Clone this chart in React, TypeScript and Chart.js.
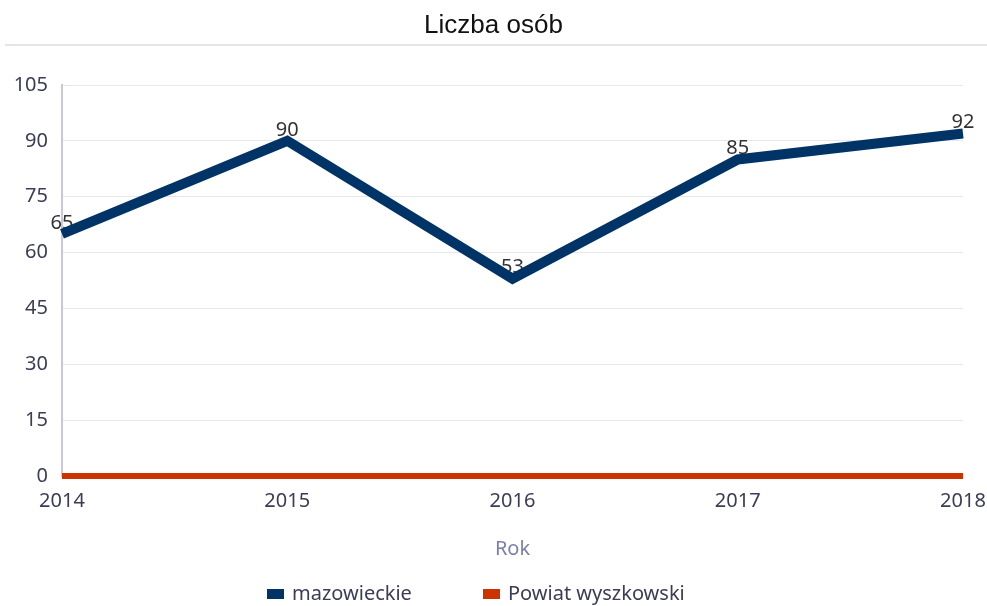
import React, { useEffect, useRef } from "react";
import { Chart, registerables } from "chart.js";

Chart.register(...registerables);

const years = ["2014", "2015", "2016", "2017", "2018"];
const mazowieckie = [65, 90, 53, 85, 92];
const powiatWyszkowski = [0, 0, 0, 0, 0];
const seriesNames = ["mazowieckie", "Powiat wyszkowski"];
const seriesColors = ["#003366", "#cc3300"];
const titleText = "Liczba osób";
const xTitle = "Rok";

const FONT = "'Noto Sans', 'Open Sans', sans-serif";

const decorPlugin = {
  id: "decor",
  beforeDatasetsDraw(chart: any) {
    const ctx = chart.ctx;
    const meta = chart.getDatasetMeta(0);
    ctx.save();
    ctx.font = `20px ${FONT}`;
    ctx.fillStyle = "#333333";
    ctx.textAlign = "center";
    ctx.textBaseline = "bottom";
    meta.data.forEach((pt: any, i: number) => {
      ctx.fillText(String(mazowieckie[i]), pt.x, pt.y - 1);
    });
    ctx.restore();
  },
  afterDraw(chart: any) {
    const ctx = chart.ctx;
    const w = chart.width;
    ctx.save();
    // title
    ctx.font = `26px 'Liberation Sans', Arial, sans-serif`;
    ctx.fillStyle = "#111111";
    ctx.textAlign = "center";
    ctx.textBaseline = "middle";
    ctx.fillText(titleText, w / 2, 26);
    // separator
    ctx.fillStyle = "#e4e4ea";
    ctx.fillRect(5, 44, w - 5, 2);
    // legend
    ctx.font = `20px ${FONT}`;
    ctx.textBaseline = "middle";
    ctx.textAlign = "left";
    const y = 594;
    const xs = [267, 483];
    seriesNames.forEach((n, i) => {
      ctx.fillStyle = seriesColors[i];
      ctx.fillRect(xs[i], y - 5, 17, 10);
      ctx.fillStyle = "#3a3d55";
      ctx.fillText(n, xs[i] + 25, y);
    });
    ctx.restore();
  },
};

export default function App() {
  const ref = useRef<HTMLCanvasElement>(null);
  useEffect(() => {
    const chart = new Chart(ref.current!, {
      type: "line",
      data: {
        labels: years,
        datasets: [
          {
            label: seriesNames[0],
            data: mazowieckie,
            borderColor: seriesColors[0],
            backgroundColor: seriesColors[0],
            borderWidth: 10,
            pointRadius: 0,
            tension: 0,
            borderJoinStyle: "miter",
            clip: false,
          },
          {
            label: seriesNames[1],
            data: powiatWyszkowski,
            borderColor: seriesColors[1],
            backgroundColor: seriesColors[1],
            borderWidth: 6,
            pointRadius: 0,
            tension: 0,
            clip: false,
          },
        ],
      },
      options: {
        animation: false,
        responsive: false,
        maintainAspectRatio: false,
        layout: { padding: { top: 85, right: 24, bottom: 41, left: 0 } },
        plugins: {
          legend: { display: false },
          title: { display: false },
          tooltip: { enabled: false },
        },
        scales: {
          x: {
            offset: false,
            grid: { display: false, drawTicks: false },
            border: { display: false },
            ticks: { color: "#3a3d55", font: { size: 20, family: FONT }, padding: 13, maxRotation: 0 },
            title: { display: true, text: xTitle, color: "#7b80a8", font: { size: 20, family: FONT }, padding: { top: 10 } },
            afterFit(scale: any) {
              scale.height = 89;
              scale.paddingRight = 0;
              scale.paddingLeft = 0;
            },
          },
          y: {
            min: 0,
            max: 105,
            ticks: { stepSize: 15, color: "#3a3d55", font: { size: 20, family: FONT }, padding: 14 },
            grid: { color: "#e6e6ee", drawTicks: false, lineWidth: 1 },
            border: { display: true, color: "#c8c8dc", width: 2 },
            afterFit(scale: any) {
              scale.width = 62;
            },
          },
        },
      },
      plugins: [decorPlugin],
    });
    return () => chart.destroy();
  }, []);
  return (
    <div style={{ position: "fixed", left: 0, top: 0, width: 987, height: 606, background: "#fff" }}>
      <canvas ref={ref} width={987} height={606} />
    </div>
  );
}
